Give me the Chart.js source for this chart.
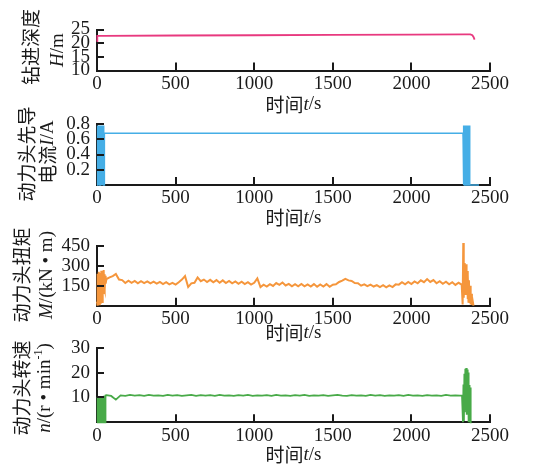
<!DOCTYPE html>
<html>
<head>
<meta charset="utf-8">
<script src="https://cdn.jsdelivr.net/npm/chart.js@4.4.1/dist/chart.umd.min.js"></script>
<style>
  body { margin: 0; background: #fff; }
  #wrap { position: relative; width: 554px; height: 467px; }
  canvas { position: absolute; left: 0; top: 0; }
</style>
</head>
<body>
<div id="wrap">
  <canvas id="c1" width="554" height="467"></canvas>
  <canvas id="c2" width="554" height="467"></canvas>
  <canvas id="c3" width="554" height="467"></canvas>
  <canvas id="c4" width="554" height="467"></canvas>
</div>
<script>
// shared time axis
const timeTicks = [0, 500, 1000, 1500, 2000, 2500];

// drilling depth H/m
const depthTicks = [10, 15, 20, 25];
const depthT = [0, 2, 40, 500, 1000, 1500, 2000, 2340, 2375, 2388, 2396, 2402];
const depthH = [20.5, 22.7, 22.7, 22.8, 22.9, 23.0, 23.1, 23.2, 23.2, 22.9, 22.2, 21.3];

// pilot current I/A
const currentTicks = [0.2, 0.4, 0.6, 0.8];
const currentT = [0, 2.5, 5, 7.5, 10, 12.5, 15, 17.5, 20, 22.5, 25, 27.5, 30, 32.5, 35, 37.5, 40, 42.5, 45,
  47, 2328, 2329,
  2331, 2334, 2337, 2340, 2343, 2346, 2349, 2352, 2355, 2358, 2361, 2364, 2367, 2370,
  2372, 2430];
const currentI = [0, 0.78, 0, 0.78, 0, 0.78, 0, 0.78, 0, 0.78, 0, 0.78, 0, 0.78, 0, 0.78, 0, 0.78, 0,
  0.68, 0.68, 0.6,
  0, 0.78, 0, 0.78, 0, 0.78, 0, 0.78, 0, 0.78, 0, 0.78, 0, 0.78,
  0, 0];

// torque M/(kN·m)
const torqueTicks = [150, 300, 450];
const torqueT = [0, 2.5, 5, 7.5, 10, 12.5, 15, 17.5, 20, 22.5, 25, 27.5, 30, 32.5, 35, 37.5, 40, 42.5, 45, 47.5, 50, 52.5, 55,
  60, 80, 100, 120, 140, 160, 180, 200, 220, 240, 260, 280, 300, 320, 340, 360, 380, 400, 420, 440, 460, 480,
  500, 520, 540, 560, 580, 600, 620, 640, 660, 680, 700, 720, 740, 760, 780, 800, 820, 840, 860, 880, 900, 920, 940, 960, 980,
  1000, 1020, 1040, 1060, 1080, 1100, 1120, 1140, 1160, 1180, 1200, 1220, 1240, 1260, 1280, 1300, 1320, 1340, 1360, 1380, 1400,
  1420, 1440, 1460, 1480, 1500, 1520, 1540, 1560, 1580, 1600, 1620, 1640, 1660, 1680, 1700, 1720, 1740, 1760, 1780, 1800,
  1820, 1840, 1860, 1880, 1900, 1920, 1940, 1960, 1980, 2000, 2020, 2040, 2060, 2080, 2100, 2120, 2140, 2160, 2180, 2200,
  2220, 2240, 2260, 2280, 2300, 2320,
  2326, 2330, 2333, 2336, 2339, 2342, 2345, 2348, 2351, 2354, 2357, 2360, 2363, 2366, 2370, 2373, 2377, 2380, 2385, 2390, 2395];
const torqueM = [30, 240, 0, 190, 60, 255, 10, 210, 80, 245, 15, 262, 110, 215, 20, 200, 95, 268, 140, 235, 120, 225, 165,
  200, 212, 222, 238, 196, 192, 170, 188, 172, 186, 168, 184, 170, 183, 168, 180, 166, 178, 162, 176, 160, 172,
  158, 176, 196, 222, 140, 168, 172, 212, 184, 196, 178, 194, 176, 192, 172, 190, 170, 186, 168, 182, 164, 180, 162, 176, 158,
  172, 205, 140, 158, 144, 162, 148, 170, 156, 174, 152, 164, 146, 162, 146, 163, 145, 160, 144, 162, 142,
  160, 144, 162, 142, 158, 160, 178, 188, 202, 190, 186, 170, 168, 150, 160, 146, 158, 144, 155, 140,
  154, 138, 152, 140, 160, 158, 176, 160, 178, 162, 182, 168, 190, 176, 200, 178, 192, 168, 184, 164,
  180, 160, 176, 156, 172, 158,
  10, 470, 60, 320, 110, 300, 80, 310, 140, 260, 50, 230, 30, 190, 20, 150, 10, 90, 5, 35, 0];

// rotation speed n/(r·min^-1)
const speedTicks = [10, 20, 30];
const speedT = [0, 2, 4, 6, 8, 10, 12, 14, 16, 18, 20, 22, 24, 26, 28, 30, 32, 34, 36, 38, 40, 44, 48, 51, 54,
  60, 90, 120, 150, 180, 210, 240, 270, 300, 330, 360, 390, 420, 450, 480, 510, 540, 570, 600, 630, 660, 690,
  720, 750, 780, 810, 840, 870, 900, 930, 960, 990, 1020, 1050, 1080, 1110, 1140, 1170, 1200, 1230, 1260, 1290,
  1320, 1350, 1380, 1410, 1440, 1470, 1500, 1530, 1560, 1590, 1620, 1650, 1680, 1710, 1740, 1770, 1800, 1830,
  1860, 1890, 1920, 1950, 1980, 2010, 2040, 2070, 2100, 2130, 2160, 2190, 2220, 2250, 2280, 2310,
  2322, 2328, 2331, 2334, 2337, 2340, 2343, 2346, 2349, 2352, 2355, 2358, 2361, 2364, 2367, 2370, 2373, 2377, 2383];
const speedN = [0, 10.2, 0, 10.2, 0, 10.2, 0, 10.2, 0, 10.2, 0, 10.2, 0, 10.2, 0, 10.2, 0, 10.2, 0, 10.2, 0, 10.3, 10.3, 0, 10.8,
  10.9, 10.6, 9.1, 10.8, 10.6, 11.0, 10.7, 10.9, 10.6, 11.0, 10.7, 10.8, 10.6, 11.0, 10.7, 10.9, 10.6, 10.8, 11.0, 10.6, 10.9, 10.7,
  10.9, 10.6, 11.0, 10.7, 10.8, 10.6, 10.9, 10.7, 11.0, 10.6, 10.8, 10.7, 10.9, 10.6, 11.0, 10.7, 10.8, 10.6, 10.9, 10.7,
  11.0, 10.6, 10.8, 10.7, 10.9, 10.6, 10.8, 11.0, 10.7, 10.6, 10.9, 10.7, 10.8, 10.6, 11.0, 10.7, 10.9, 10.6,
  10.8, 10.7, 10.9, 10.6, 11.0, 10.7, 10.8, 10.6, 10.9, 10.7, 10.8, 10.6, 11.0, 10.7, 10.8, 10.7,
  10.8, 0, 15.2, 0.5, 19.5, 4, 21.5, 9, 21.8, 3, 21.2, 7, 20, 0, 15, 0, 14, 0, 0];

const CJK = '19px "Noto Sans CJK SC"';
const RM = '19px "Liberation Serif"';
const IT = 'italic 19px "Liberation Serif"';
const SUP = '12px "Liberation Serif"';

function drawRich(ctx, segs, x, y, vertical) {
  ctx.save();
  ctx.translate(x, y);
  if (vertical) ctx.rotate(-Math.PI / 2);
  let w = 0;
  segs.forEach(s => { ctx.font = s[1]; w += ctx.measureText(s[0]).width; });
  let cx = -w / 2;
  ctx.textBaseline = 'middle';
  ctx.textAlign = 'left';
  ctx.fillStyle = '#1a1a1a';
  segs.forEach(s => {
    ctx.font = s[1];
    ctx.fillText(s[0], cx, s[2] || 0);
    cx += ctx.measureText(s[0]).width;
  });
  ctx.restore();
}

// inward tick marks + titles
const decor = {
  id: 'decor',
  afterDraw(chart, args, opts) {
    const ctx = chart.ctx;
    const xs = chart.scales.x, ys = chart.scales.y;
    const a = chart.chartArea;
    ctx.save();
    ctx.strokeStyle = '#1a1a1a';
    ctx.lineWidth = 2;
    ctx.beginPath();
    xs.ticks.forEach(t => {
      if (t.value === xs.min) return;
      const px = Math.round(xs.getPixelForValue(t.value));
      ctx.moveTo(px, a.bottom);
      ctx.lineTo(px, a.bottom - 8);
    });
    ys.ticks.forEach(t => {
      if (t.value === ys.min) return;
      const py = Math.round(ys.getPixelForValue(t.value));
      ctx.moveTo(a.left, py);
      ctx.lineTo(a.left + 7, py);
    });
    ctx.stroke();
    ctx.restore();
    drawRich(ctx, [['时间', CJK], ['t', IT], ['/s', RM]], (a.left + a.right) / 2, opts.titleY, false);
    opts.yTitle.forEach(l => drawRich(ctx, l.segs, l.x, l.y, true));
  }
};

function makePanel(id, xsData, ysData, color, width, yMin, yMax, yTicks, top, bottom, titleY, yTitle) {
  new Chart(document.getElementById(id), {
    type: 'line',
    data: {
      datasets: [{
        data: xsData.map((t, i) => ({ x: t, y: ysData[i] })),
        borderColor: color,
        borderWidth: width,
        pointRadius: 0,
        tension: 0,
        clip: false
      }]
    },
    options: {
      responsive: false,
      animation: false,
      devicePixelRatio: 1,
      layout: { padding: { top: top, bottom: 467 - bottom - 30, left: 0, right: 64 } },
      plugins: {
        legend: { display: false },
        tooltip: { enabled: false },
        decor: { titleY: titleY, yTitle: yTitle }
      },
      scales: {
        x: {
          type: 'linear',
          min: 0,
          max: 2500,
          afterBuildTicks: s => { s.ticks = timeTicks.map(v => ({ value: v })); },
          afterFit: s => { s.height = 30; },
          grid: { display: false, drawTicks: false },
          border: { display: true, color: '#1a1a1a', width: 2 },
          ticks: { color: '#1a1a1a', font: { family: 'Liberation Serif', size: 19 }, padding: 2, maxRotation: 0, autoSkip: false,
            callback: v => String(v) }
        },
        y: {
          min: yMin,
          max: yMax,
          afterBuildTicks: s => { s.ticks = yTicks.map(v => ({ value: v })); },
          afterFit: s => { s.width = 97; },
          grid: { display: false, drawTicks: false },
          border: { display: true, color: '#1a1a1a', width: 2 },
          ticks: { color: '#1a1a1a', font: { family: 'Liberation Serif', size: 19 }, padding: 7, autoSkip: false,
            callback: v => String(v) }
        }
      }
    },
    plugins: [decor]
  });
}

makePanel('c1', depthT, depthH, '#e8397f', 1.8, 10, 25, depthTicks, 29.5, 70.5, 104.5, [
  { x: 31, y: 47, segs: [['钻进深度', CJK]] },
  { x: 58, y: 50, segs: [['H', IT], ['/m', RM]] }
]);
makePanel('c2', currentT, currentI, '#45aee6', 1.5, 0, 0.8, currentTicks, 124, 185, 218, [
  { x: 27, y: 154, segs: [['动力头先导', CJK]] },
  { x: 48, y: 152, segs: [['电流', CJK], ['I', IT], ['/A', RM]] }
]);
makePanel('c3', torqueT, torqueM, '#f5963c', 2, 0, 450, torqueTicks, 245.7, 305.7, 333, [
  { x: 22, y: 275, segs: [['动力头扭矩', CJK]] },
  { x: 47, y: 275, segs: [['M', IT], ['/(kN • m)', RM]] }
]);
makePanel('c4', speedT, speedN, '#48aa48', 1.8, 0, 30, speedTicks, 347.7, 422.3, 455, [
  { x: 22, y: 388, segs: [['动力头转速', CJK]] },
  { x: 45, y: 388, segs: [['n', IT], ['/(r • min', RM], ['-1', SUP, -6], [')', RM]] }
]);
</script>
</body>
</html>
